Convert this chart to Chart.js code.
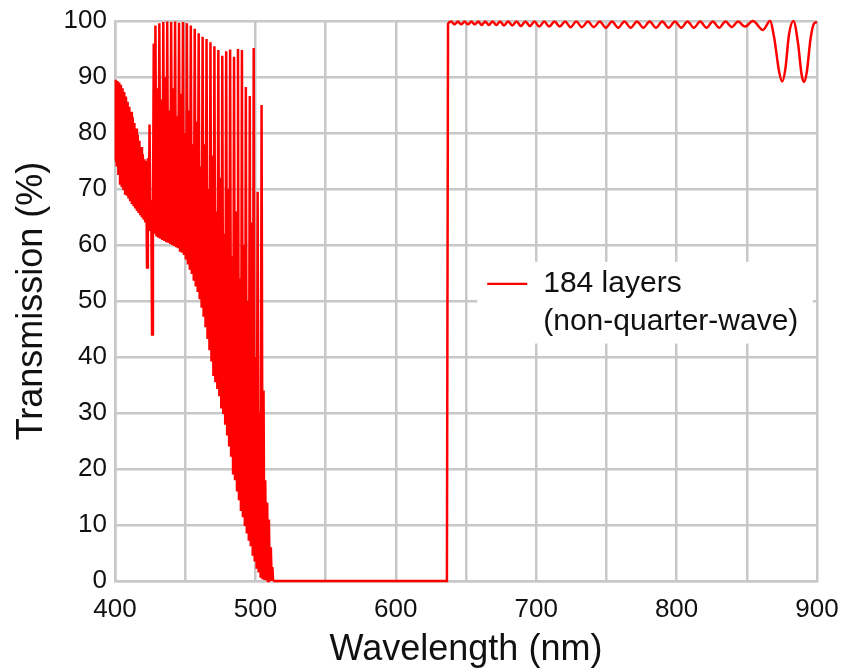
<!DOCTYPE html>
<html>
<head>
<meta charset="utf-8">
<script src="https://cdn.jsdelivr.net/npm/chart.js@4.4.1/dist/chart.umd.min.js"></script>
<style>
    html, body { margin: 0; padding: 0; background: #fff; }
    #wrap { width: 842px; height: 669px; }
</style>
</head>
<body>
<div id="wrap"><canvas id="specChart" width="842" height="669"></canvas></div>
<script>
// Transmission of the 184-layer filter (wavelength nm, transmission %)
// short-wave edge, fast fringes
const edgeWl = [400.0, 400.6, 401.2, 401.8, 402.4, 403.0, 403.6, 404.2, 404.8, 405.4, 406.0, 406.6, 407.2, 407.8, 408.4, 409.0,
    409.6, 410.2, 410.8, 411.4, 412.0, 412.6, 413.2, 413.8, 414.4, 415.0, 415.6, 416.2, 416.8, 417.4, 418.0, 418.6,
    419.2, 419.8, 420.4, 421.0, 421.6, 422.2, 422.8, 423.4, 424.0, 424.6, 425.2, 425.8, 426.4, 427.0, 427.6, 428.2];
const edgeT = [75, 89.5, 74, 89.3, 72.5, 89, 71, 88.6, 70.3, 88, 69.8, 87.3, 69.2, 86.5, 68.8, 85.6,
    68.3, 84.7, 67.8, 83.8, 67.3, 82.8, 66.9, 81.8, 66.5, 80.8, 66.1, 79.7, 65.7, 78.6, 65.3, 77.5,
    64.9, 76.2, 64.5, 75.3, 64, 75, 56, 75.5, 63, 81.5, 62.5, 68, 44, 63, 96, 62];

// blue-green fringes falling into the stop band: peak, trough, sub-peak, trough ...
const fringeWl = [
    428.8, 429.5, 430.2, 430.9, 431.6, 432.3, 433.0, 433.7, 434.4, 435.1, 435.8, 436.5,
    437.2, 437.9, 438.6, 439.3, 440.0, 440.7, 441.4, 442.1, 442.8, 443.5, 444.2, 444.9,
    445.6, 446.3, 447.0, 447.7, 448.4, 449.1, 449.8, 450.5, 451.2, 451.9, 452.6, 453.3,
    454.0, 454.7, 455.4, 456.1, 456.8, 457.5, 458.2, 458.9, 459.6, 460.3, 461.0, 461.7,
    462.4, 463.1, 463.8, 464.5, 465.2, 465.9, 466.6, 467.3, 468.0, 468.7, 469.4, 470.1,
    470.8, 471.5, 472.2, 472.9, 473.6, 474.3, 475.0, 475.7, 476.4, 477.1, 477.8, 478.5,
    479.2, 479.9, 480.6, 481.3, 482.0, 482.7, 483.4, 484.1, 484.8, 485.5, 486.2, 486.9,
    487.6, 488.3, 489.0, 489.7, 490.4, 491.1, 491.8, 492.5, 493.2, 493.9, 494.6, 495.3,
    496.0, 496.7, 497.4, 498.1, 498.8, 499.5, 500.2, 500.9, 501.6, 502.3, 503.0, 503.7,
    504.4, 505.1, 505.8, 506.4, 507.0, 507.7, 508.4, 509.0, 509.6, 510.3, 511.0, 511.6,
    512.1, 512.6];
const fringeT = [
    99.2, 61.5, 88, 61.3, 99.6, 61.1, 86, 60.9, 99.8, 60.7, 90, 60.5,
    99.9, 60.4, 84, 60.2, 99.8, 60, 88, 59.8, 99.9, 59.6, 83, 59.4,
    99.7, 59, 87, 58.6, 99.8, 58.2, 80, 57.4, 99.6, 56.5, 84, 55.6,
    99.2, 54.8, 78, 53.6, 98.6, 52.6, 82, 51.6, 97.8, 50.3, 74, 48.8,
    97.2, 47.2, 78, 45.3, 96.8, 43.2, 70, 41.2, 96.2, 39.2, 76, 36.6,
    95.5, 35.5, 66, 34.3, 94.8, 33, 72, 30.8, 93.8, 29.8, 62, 27.9,
    94.6, 26, 70, 24, 94.9, 22.2, 58, 19, 93.6, 18, 66, 16.2,
    95.0, 14.4, 54, 12.5, 94.8, 11.4, 60, 9.8, 88.2, 8.5, 50, 7.2,
    86.6, 6.2, 64, 4.5, 95.2, 3.5, 40, 2.2, 69.5, 1.5, 30, 0.6,
    85, 0.3, 34, 0.2, 18, 0.1, 14, 0, 11, 0, 6, 0,
    2.5, 0];

// stop band
const stopWl = [512.6, 540, 580, 620, 636.4];
const stopT = [0, 0, 0, 0, 0];

// pass band with small ripple and the two dips near 900 nm
const passWl = [637.2, 639.5, 641.8, 644.2, 646.6, 649.0, 651.4, 653.8, 656.2, 658.7, 661.2, 663.7, 666.3, 668.9,
    671.6, 674.3, 677.1, 680.0, 683.0, 686.0, 689.1, 692.3, 695.5, 698.8, 702.2, 705.7, 709.3, 713.0, 716.8, 720.6,
    724.5, 728.5, 732.6, 736.8, 741.0, 745.3, 749.6, 754.0, 758.4, 762.8, 767.3, 771.8, 776.3, 780.8, 785.3, 789.8,
    794.3, 798.8, 803.3, 807.8, 812.3, 816.8, 821.3, 825.8, 830.3, 834.8, 839.3, 843.8, 848.6, 854.4, 861.5, 866.5,
    869.5, 873.0, 875.2, 877.5, 880.0, 883.2, 886.5, 889.0, 890.8, 892.8, 895.5, 898.0, 900.0];
const passT = [99.5, 99.9, 99.4, 99.9, 99.4, 99.9, 99.4, 99.9, 99.4, 99.9, 99.3, 99.9, 99.3, 99.9,
    99.3, 99.9, 99.2, 99.9, 99.2, 99.9, 99.1, 99.9, 99.1, 99.9, 99.0, 99.9, 99.0, 99.9, 99.0, 99.9,
    98.9, 99.9, 98.9, 99.9, 98.9, 99.9, 98.8, 99.9, 98.8, 99.9, 98.8, 99.9, 98.8, 99.9, 98.8, 99.9,
    98.8, 99.9, 98.8, 99.9, 98.8, 99.9, 98.8, 99.9, 98.8, 99.9, 98.9, 99.9, 99.0, 100, 98.4, 100,
    97, 91, 89.2, 91.5, 97.5, 100, 96, 90.5, 89.1, 91, 97, 99.6, 99.8];

const xTicks = [400, 500, 600, 700, 800, 900];
const seriesLabel = '184 layers\n(non-quarter-wave)';

const FONT = '"Liberation Sans", Arial, Helvetica, sans-serif';
const GRID = '#c8c8c8';
const RED = '#ff0000';

function toPoints(wl, t) {
    return wl.map((w, i) => ({ x: w, y: t[i] }));
}

// dense fringes drawn straight, smooth part drawn with monotone curve
const densePoints = [].concat(toPoints(edgeWl, edgeT), toPoints(fringeWl, fringeT));
const smoothPoints = [].concat(toPoints(stopWl, stopT), toPoints(passWl, passT));

const whiteBg = {
    id: 'whiteBg',
    beforeDraw(chart) {
        const ctx = chart.ctx;
        ctx.save();
        ctx.fillStyle = '#fff';
        ctx.fillRect(0, 0, chart.width, chart.height);
        ctx.restore();
    }
};

// legend sits in a white box inside the plot
const insideLegend = {
    id: 'insideLegend',
    beforeDatasetsDraw(chart) {
        const { ctx, chartArea } = chart;
        const ds = chart.data.datasets[0];
        const w = chartArea.right - chartArea.left;
        const h = chartArea.bottom - chartArea.top;
        const left = chartArea.left + w * 0.516;
        const top = chartArea.top + h * 0.43;

        ctx.save();
        ctx.fillStyle = '#fff';
        ctx.fillRect(left, top, w * 0.478, h * 0.146);

        const lineY = top + 22;
        ctx.strokeStyle = ds.borderColor;
        ctx.lineWidth = 2.2;
        ctx.beginPath();
        ctx.moveTo(left + 10, lineY);
        ctx.lineTo(left + 50, lineY);
        ctx.stroke();

        ctx.fillStyle = '#111';
        ctx.font = '30px ' + FONT;
        ctx.textBaseline = 'middle';
        ds.label.split('\n').forEach((line, i) => {
            ctx.fillText(line, left + 66, lineY + i * 38);
        });
        ctx.restore();
    }
};

const ctx = document.getElementById('specChart');
new Chart(ctx, {
    type: 'line',
    data: {
        datasets: [{
            label: seriesLabel,
            data: densePoints,
            borderColor: RED,
            borderWidth: 2.5,
            pointRadius: 0,
            fill: false,
            tension: 0,
            clip: 6
        }, {
            label: '',
            data: smoothPoints,
            borderColor: RED,
            borderWidth: 2.5,
            pointRadius: 0,
            fill: false,
            cubicInterpolationMode: 'monotone',
            clip: 6
        }]
    },
    options: {
        responsive: false,
        animation: false,
        devicePixelRatio: 1,
        layout: { padding: { top: 21, right: 25, left: 0, bottom: 0 } },
        plugins: {
            legend: { display: false },
            tooltip: { enabled: false }
        },
        scales: {
            x: {
                type: 'linear',
                min: 400,
                max: 900,
                afterFit: s => {
                    s.height = 88;
                    s.paddingLeft = 0;
                    s.paddingRight = 0;
                },
                afterBuildTicks: s => {
                    s.ticks = [];
                    for (let v = 400; v <= 900; v += 50) s.ticks.push({ value: v });
                },
                ticks: {
                    autoSkip: false,
                    maxRotation: 0,
                    padding: 13,
                    color: '#111',
                    font: { family: FONT, size: 26 },
                    callback: v => xTicks.includes(v) ? String(v) : ''
                },
                grid: { color: GRID, lineWidth: 2.5, drawTicks: false },
                border: { color: GRID, width: 2.5 },
                title: {
                    display: true,
                    text: 'Wavelength (nm)',
                    color: '#111',
                    font: { family: FONT, size: 36 },
                    padding: { top: 0, bottom: -3 }
                }
            },
            y: {
                min: 0,
                max: 100,
                afterFit: s => {
                    s.width = 115;
                    s.paddingTop = 0;
                    s.paddingBottom = 0;
                },
                ticks: {
                    stepSize: 10,
                    padding: 8,
                    color: '#111',
                    font: { family: FONT, size: 26 }
                },
                grid: { color: GRID, lineWidth: 2.5, drawTicks: false },
                border: { color: GRID, width: 2.5 },
                title: {
                    display: true,
                    text: 'Transmission (%)',
                    color: '#111',
                    font: { family: FONT, size: 36 },
                    padding: { top: 10, bottom: 0 }
                }
            }
        }
    },
    plugins: [whiteBg, insideLegend]
});
</script>
</body>
</html>
